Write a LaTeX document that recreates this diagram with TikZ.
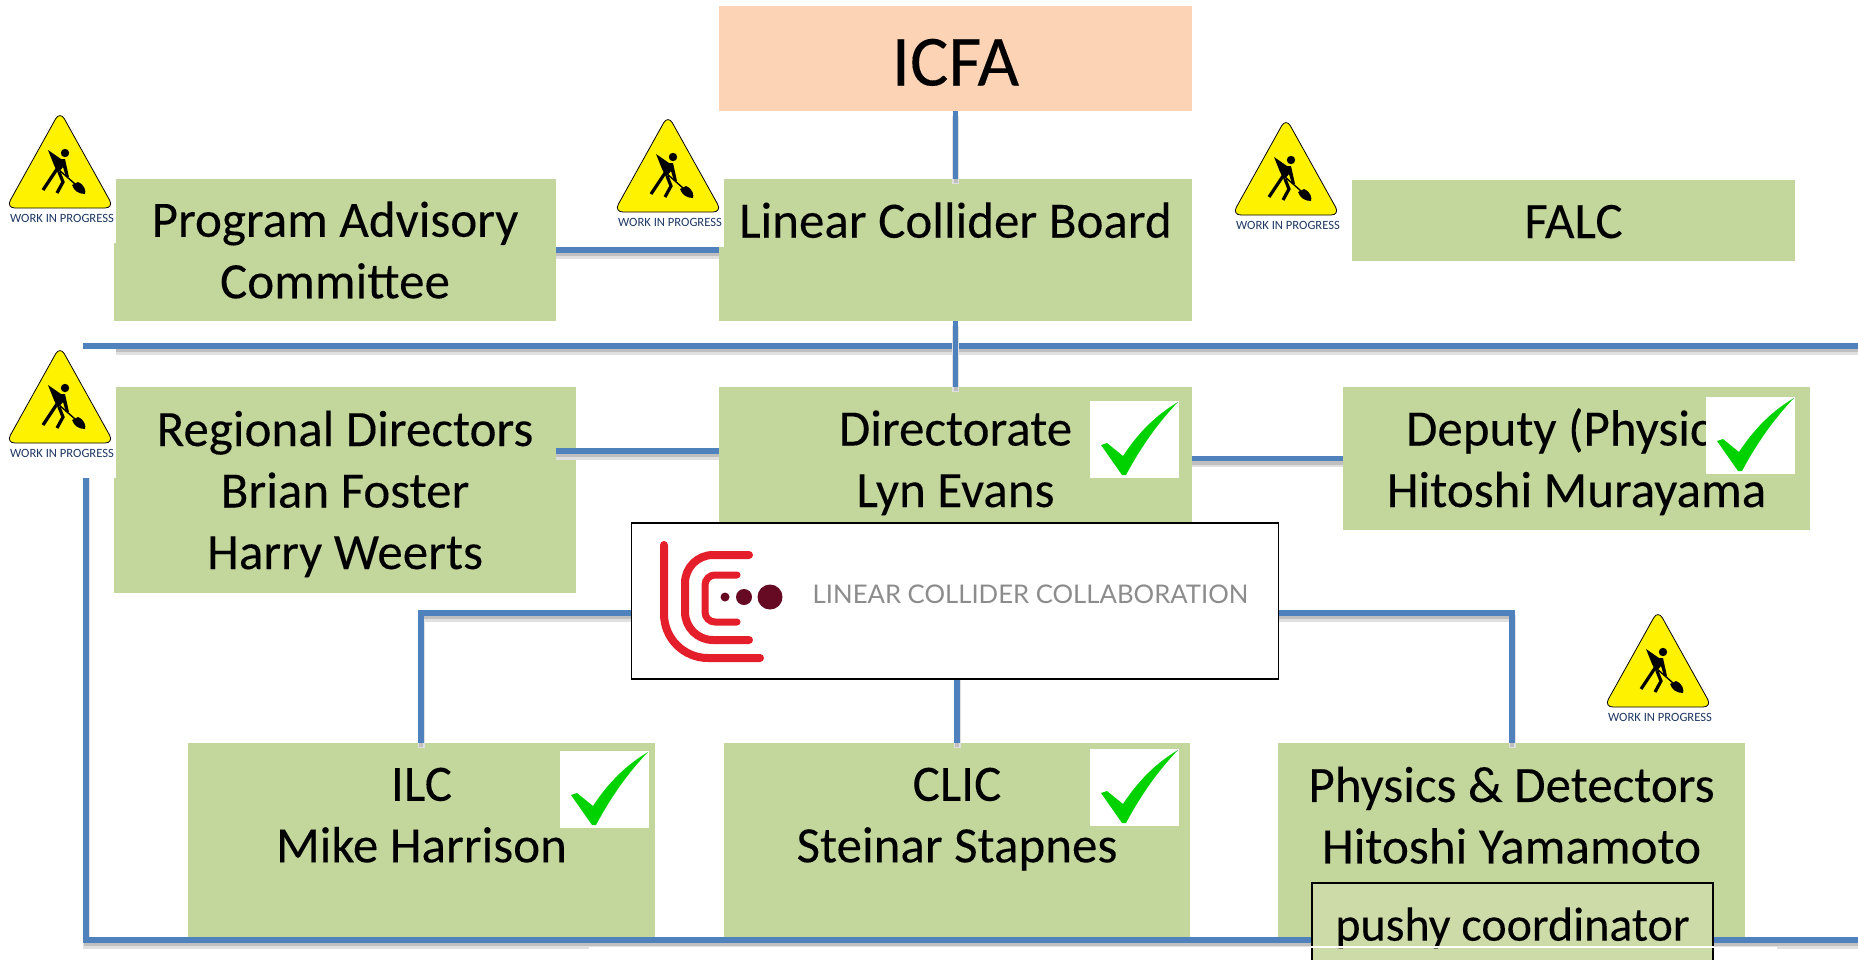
\documentclass[tikz,border=0pt]{standalone}
\usepackage{fontspec}
\setmainfont[FakeBold=0.15]{Carlito}
\newfontfamily\logofont{Lato}
\newfontfamily\signfont{Carlito}
\definecolor{boxgreen}{HTML}{C3D69B}
\definecolor{paleGreen}{HTML}{CDDBA9}
\definecolor{boxpeach}{HTML}{FCD3B5}
\definecolor{linkblue}{HTML}{4F81BD}
\definecolor{signyellow}{HTML}{FFF200}
\definecolor{signnavy}{HTML}{1F3864}
\definecolor{tickgreen}{HTML}{00D200}
\definecolor{logored}{HTML}{E41E2B}
\definecolor{logodark}{HTML}{650A22}
\tikzset{
  box/.style={fill=boxgreen, align=center, inner sep=0pt, font=\fontsize{51}{61.5}\selectfont},
  link/.style={draw=linkblue, line width=5.5pt,
    preaction={draw=black!12, line width=7pt, transform canvas={yshift=-5pt}},
    preaction={draw=black!25, line width=4pt, transform canvas={yshift=-4pt}}},
  wipsign/.pic={
    \fill[white] (-60,-3) rectangle (56,126);
    \draw[fill=signyellow, line width=.8pt, rounded corners=9pt] (0,-6) -- (54,91) -- (-54,91) -- cycle;
    \fill (5,36) circle (4.2);
    \fill (-12,33) -- (1,42) -- (5,42) -- (9,60) -- (6,60) -- (3,50) -- (-2,56) -- (-6,48) -- cycle;
    \draw[line width=3.2pt] (-3,52) -- (-17,73);
    \draw[line width=3.2pt] (-1,55) -- (3,65) -- (-3,76);
    \draw[line width=1.4pt] (-2,52) -- (15,67);
    \fill (12,68) -- (18,65) .. controls (25,68) and (26,74) .. (25,77) .. controls (19,77) and (14,74) .. cycle;
    \node[text=signnavy, inner sep=0pt, font=\signfont\fontsize{12.6}{14}\selectfont] (-text) at (2,101) {WORK IN PROGRESS};
  },
  tickmark/.pic={
    \fill[white] (0,0) rectangle (89,77);
    \fill[tickgreen] (11,44) -- (17,42) -- (33,55) .. controls (48,32) and (66,14) .. (88,1) .. controls (66,24) and (50,48) .. (36,74) -- (32,74) -- cycle;
  }
}
\begin{document}
\begin{tikzpicture}[x=1pt,y=-1pt]
\useasboundingbox (0,0) rectangle (1858,959);
% boxes
\node[fill=boxpeach, minimum width=473pt, minimum height=105pt, text height=54pt, text depth=0pt, font=\fontsize{72}{80}\selectfont] (icfa) at (955.5,58.5) {ICFA};
\node[box, minimum width=442pt, minimum height=142pt] (pac) at (335,250) {Program Advisory\\Committee};
\node[box, minimum width=473pt, minimum height=142pt, text depth=60pt] (lcb) at (955.5,250) {Linear Collider Board};
\node[box, minimum width=443pt, minimum height=81pt, text height=35pt, text depth=0pt] (falc) at (1573.5,220.5) {FALC};
\node[box, minimum width=462pt, minimum height=206pt, text height=158pt, text depth=0pt] (regional) at (345,490) {Regional Directors\\Brian Foster\\Harry Weerts};
\node[box, minimum width=473pt, minimum height=143pt, text height=97pt, text depth=0pt] (directorate) at (955.5,458.5) {Directorate\\Lyn Evans};
\node[box, minimum width=467pt, minimum height=143pt, text height=97pt, text depth=0pt] (deputy) at (1576.5,458.5) {Deputy (Physics)\\Hitoshi Murayama};
\node[box, minimum width=467pt, minimum height=204pt, text depth=60pt] (ilc) at (421.5,845) {ILC\\Mike Harrison};
\node[box, minimum width=466pt, minimum height=204pt, text depth=60pt] (clic) at (957,845) {CLIC\\Steinar Stapnes};
\node[box, minimum width=467pt, minimum height=204pt, text depth=60pt] (physics) at (1511.5,845) {Physics \& Detectors\\Hitoshi Yamamoto};
% frame lines
\coordinate (framenw) at (86,346);
\coordinate (framene) at (1858,346);
\coordinate (framesw) at (86,940);
\coordinate (framese) at (1858,940);
\draw[link] (framene) -- (framenw) -- (framesw) -- (framese);
% links between the boxes
\coordinate (regionalend) at (556,451);
\coordinate (ilcbend) at (421,613);
\coordinate (physicsbend) at (1512,613);
\coordinate (logoin) at (955,613);
\draw[link] (icfa) -- (lcb);
\draw[link] (lcb) -- (directorate);
\draw[link] (pac) -- (lcb);
\draw[link] (regionalend) -- (regionalend -| directorate.west);
\draw[link] (directorate.east) -- (deputy.west);
\draw[link] (logoin) -- (ilcbend) -- (ilc.north -| ilcbend);
\draw[link] (logoin) -- (physicsbend) -- (physics.north -| physicsbend);
\draw[link] (logoin -| clic.north) -- (clic.north);
% logo
\node[draw=black, fill=white, line width=1.6pt, minimum width=647pt, minimum height=156pt] (logo) at (955,601) {};
\draw[logored, line width=8pt, line cap=round, rounded corners=44pt] (664,545) -- (664,658) -- (760,658);
\draw[logored, line width=8pt, line cap=round, rounded corners=28pt] (749,555) -- (685,555) -- (685,640) -- (749,640);
\draw[logored, line width=7pt, line cap=round, rounded corners=10pt] (737,575) -- (705,575) -- (705,622) -- (737,622);
\fill[logodark] (725,597) circle (4.5) (744,597) circle (8) (770,597) circle (12.5);
\node[text=black!45, inner sep=0pt, font=\logofont\fontsize{25.7}{28}\selectfont] (logotext) at (1030.5,594) {LINEAR COLLIDER COLLABORATION};
% ticks
\foreach \x/\y in {1090/401, 1706/397, 560/751, 1090/749} \pic at (\x,\y) {tickmark};
% signs
\foreach \x/\y in {60/117, 60/352, 668/121, 1286/124, 1658/616} \pic at (\x,\y) {wipsign};
% bottom strip and coordinator
\fill[white] (589,947) rectangle (1777,959);
\node[draw=black, fill=paleGreen, line width=1.2pt, minimum width=401pt, minimum height=96pt, text depth=14pt, font=\fontsize{48}{50}\selectfont] (pushy) at (1512.5,931) {pushy coordinator};
\draw[white, line width=1.6pt] (pushy.west |- 0,947) -- (pushy.east |- 0,947);
\end{tikzpicture}
\end{document}
